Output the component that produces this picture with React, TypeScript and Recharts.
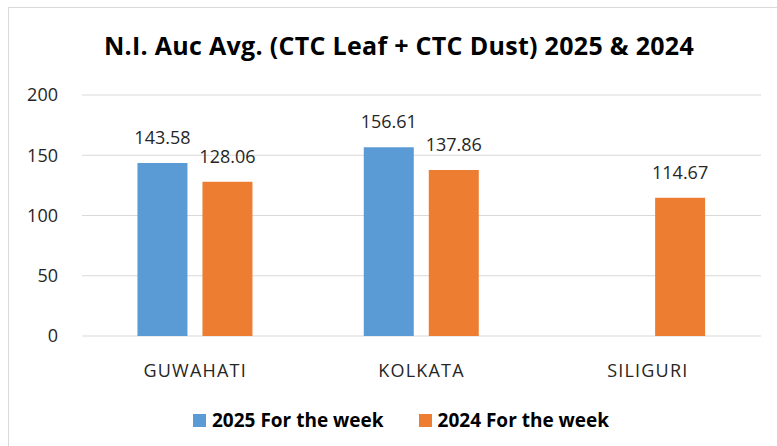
import { BarChart, Bar, XAxis, YAxis, CartesianGrid, LabelList } from 'recharts';

const CITIES = ['GUWAHATI', 'KOLKATA', 'SILIGURI'];
const WEEK_2025 = [143.58, 156.61, null];
const WEEK_2024 = [128.06, 137.86, 114.67];
const Y_TICKS = [0, 50, 100, 150, 200];

const SERIES = [
  { key: 'y2025', name: '2025 For the week', color: '#5B9BD5' },
  { key: 'y2024', name: '2024 For the week', color: '#ED7D31' },
];

const FONT = '"Open Sans", "Noto Sans", sans-serif';

const chartData = CITIES.map((city, i) => ({
  city,
  y2025: WEEK_2025[i],
  y2024: WEEK_2024[i],
}));

export default function App() {
  return (
    <div style={{ position: 'absolute', left: 0, top: 0, width: 777, height: 446, background: '#fff', overflow: 'hidden', fontFamily: FONT }}>
      {/* chart frame, cropped on the right and bottom like the source */}
      <div style={{ position: 'absolute', left: 8, top: 7, width: 800, height: 480, border: '1px solid #d9d9d9' }} />

      <div style={{ position: 'absolute', left: 0, top: 28, width: 798, textAlign: 'center', fontSize: 25, fontWeight: 700, color: '#000', letterSpacing: 0.3, whiteSpace: 'nowrap' }}>
        N.I. Auc Avg. (CTC Leaf + CTC Dust) 2025 &amp; 2024
      </div>

      <div style={{ position: 'absolute', left: 0, top: 0 }}>
        <BarChart width={777} height={446} data={chartData}
          margin={{ top: 95, right: 16, bottom: 80, left: 0 }}
          barCategoryGap="24.5%" barGap={15}>
          <CartesianGrid vertical={false} stroke="#d9d9d9" />
          <YAxis domain={[0, 200]} ticks={Y_TICKS} width={82} axisLine={false} tickLine={false}
            tickSize={0} tickMargin={24} tick={{ fontSize: 18, fill: '#262626', fontFamily: FONT }} />
          <XAxis dataKey="city" axisLine={false} tickLine={false} height={30} tickMargin={22}
            tick={{ fontSize: 18, fill: '#262626', fontFamily: FONT, letterSpacing: 1.2 }} />
          {SERIES.map(s => (
            <Bar key={s.key} dataKey={s.key} name={s.name} fill={s.color} isAnimationActive={false}>
              <LabelList dataKey={s.key} position="top" offset={19}
                style={{ fontSize: 18, fill: '#262626', fontFamily: FONT }} />
            </Bar>
          ))}
        </BarChart>
      </div>

      <div style={{ position: 'absolute', left: 193, top: 407, display: 'flex', alignItems: 'center', fontSize: 19, fontWeight: 700, color: '#000', whiteSpace: 'nowrap' }}>
        {SERIES.map((s, i) => (
          <div key={s.key} style={{ display: 'flex', alignItems: 'center', marginRight: i === 0 ? 35 : 0 }}>
            <span style={{ width: 13, height: 13, background: s.color, display: 'inline-block', marginRight: 6 }} />
            <span>{s.name}</span>
          </div>
        ))}
      </div>
    </div>
  );
}
